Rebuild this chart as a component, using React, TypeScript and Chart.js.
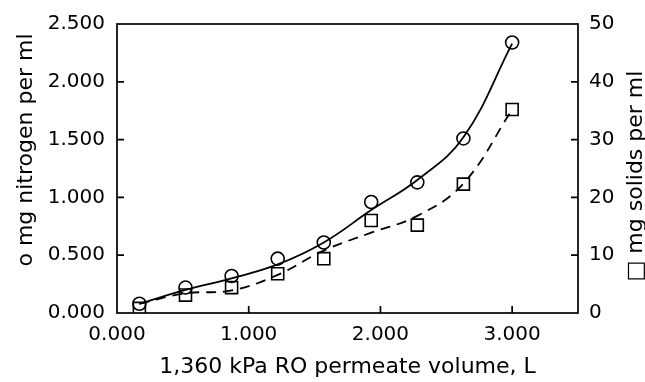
import React, { useEffect, useRef } from 'react';
import { Chart, registerables } from 'chart.js';

Chart.register(...registerables);

// Permeate volume (L) at which samples were taken
const volume = [0.17, 0.52, 0.87, 1.22, 1.57, 1.93, 2.28, 2.63, 3.0];
// mg nitrogen per ml (circles, left axis)
const nitrogen = [0.08, 0.22, 0.32, 0.47, 0.61, 0.96, 1.13, 1.51, 2.34];
// mg solids per ml (squares, right axis)
const solids = [0.8, 3.1, 4.4, 6.8, 9.4, 16.0, 15.2, 22.3, 35.2];
// fitted curves
const nitrogenFit = [0.08, 0.2, 0.3, 0.42, 0.61, 0.89, 1.15, 1.52, 2.33];
const solidsFit = [1.6, 3.4, 3.9, 6.6, 10.8, 13.9, 16.8, 22.4, 35.2];

const xTicks = [0, 1, 2, 3];
const yLeftTicks = [0, 0.5, 1, 1.5, 2, 2.5];
const yRightTicks = [0, 10, 20, 30, 40, 50];

const xTitle = '1,360 kPa RO permeate volume, L';
const yLeftTitle = 'o mg nitrogen per ml';
const yRightTitle = '\u25A1 mg solids per ml';

const FONT = '"DejaVu Sans", sans-serif';

const framePlugin = {
  id: 'frame',
  afterDatasetsDraw(chart: any) {
    const { ctx, chartArea: a, scales } = chart;
    ctx.save();
    ctx.strokeStyle = '#000';
    ctx.lineWidth = 1.7;
    ctx.strokeRect(a.left, a.top, a.right - a.left, a.bottom - a.top);
    const len = 7;
    ctx.beginPath();
    xTicks.forEach((v) => {
      if (v === 0) return;
      const px = scales.x.getPixelForValue(v);
      ctx.moveTo(px, a.bottom);
      ctx.lineTo(px, a.bottom - len);
    });
    yLeftTicks.forEach((v) => {
      if (v === 0 || v === 2.5) return;
      const py = scales.y.getPixelForValue(v);
      ctx.moveTo(a.left, py);
      ctx.lineTo(a.left + len, py);
    });
    yRightTicks.forEach((v) => {
      if (v === 0 || v === 50) return;
      const py = scales.y2.getPixelForValue(v);
      ctx.moveTo(a.right, py);
      ctx.lineTo(a.right - len, py);
    });
    ctx.stroke();

    ctx.fillStyle = '#000';
    ctx.font = `22px ${FONT}`;
    ctx.textAlign = 'center';
    ctx.textBaseline = 'middle';
    ctx.fillText(xTitle, (a.left + a.right) / 2, 367);

    ctx.save();
    ctx.translate(26, 150);
    ctx.rotate(-Math.PI / 2);
    ctx.fillText(yLeftTitle, 0, 0);
    ctx.restore();

    ctx.save();
    ctx.translate(636, 176);
    ctx.rotate(-Math.PI / 2);
    ctx.fillText(yRightTitle, 0, 0);
    ctx.restore();

    ctx.restore();
  },
};

export default function App() {
  const ref = useRef<HTMLCanvasElement | null>(null);

  useEffect(() => {
    if (!ref.current) return;
    const pts = (ys: number[]) => volume.map((x, i) => ({ x, y: ys[i] }));
    const chart = new Chart(ref.current, {
      type: 'scatter',
      data: {
        datasets: [
          {
            label: 'nitrogen fit',
            data: pts(nitrogenFit),
            yAxisID: 'y',
            showLine: true,
            borderColor: '#000',
            borderWidth: 1.8,
            pointRadius: 0,
            tension: 0.4,
          },
          {
            label: 'solids fit',
            data: pts(solidsFit),
            yAxisID: 'y2',
            showLine: true,
            borderColor: '#000',
            borderWidth: 1.8,
            borderDash: [10, 7],
            pointRadius: 0,
            tension: 0.4,
          },
          {
            label: 'mg nitrogen per ml',
            data: pts(nitrogen),
            yAxisID: 'y',
            showLine: false,
            pointStyle: 'circle',
            pointRadius: 6.5,
            pointBorderWidth: 1.6,
            pointBorderColor: '#000',
            pointBackgroundColor: 'rgba(0,0,0,0)',
          },
          {
            label: 'mg solids per ml',
            data: pts(solids),
            yAxisID: 'y2',
            showLine: false,
            pointStyle: 'rect',
            pointRadius: 8.5,
            pointBorderWidth: 1.6,
            pointBorderColor: '#000',
            pointBackgroundColor: 'rgba(0,0,0,0)',
          },
        ],
      },
      options: {
        animation: false,
        responsive: false,
        layout: { padding: { top: 23, left: 0, right: 0, bottom: 0 } },
        plugins: { legend: { display: false }, tooltip: { enabled: false } },
        scales: {
          x: {
            type: 'linear',
            min: 0,
            max: 3.5,
            afterBuildTicks: (s: any) => {
              s.ticks = xTicks.map((v) => ({ value: v }));
            },
            afterFit: (s: any) => {
              s.height = 69;
            },
            grid: { display: false, drawTicks: false },
            border: { display: false },
            ticks: {
              color: '#000',
              font: { family: FONT, size: 20 },
              padding: 10,
              maxRotation: 0,
              callback: (v: any) => Number(v).toFixed(3),
            },
          },
          y: {
            type: 'linear',
            position: 'left',
            min: 0,
            max: 2.5,
            afterBuildTicks: (s: any) => {
              s.ticks = yLeftTicks.map((v) => ({ value: v }));
            },
            afterFit: (s: any) => {
              s.width = 117;
            },
            grid: { display: false, drawTicks: false },
            border: { display: false },
            ticks: {
              color: '#000',
              font: { family: FONT, size: 20 },
              padding: 12,
              callback: (v: any) => Number(v).toFixed(3),
            },
          },
          y2: {
            type: 'linear',
            position: 'right',
            min: 0,
            max: 50,
            afterBuildTicks: (s: any) => {
              s.ticks = yRightTicks.map((v) => ({ value: v }));
            },
            afterFit: (s: any) => {
              s.width = 67;
            },
            grid: { display: false, drawTicks: false },
            border: { display: false },
            ticks: {
              color: '#000',
              font: { family: FONT, size: 20 },
              padding: 11,
              callback: (v: any) => String(v),
            },
          },
        },
      },
      plugins: [framePlugin],
    } as any);
    return () => chart.destroy();
  }, []);

  return (
    <div style={{ position: 'absolute', left: 0, top: 0, width: 645, height: 382, background: '#fff' }}>
      <canvas ref={ref} width={645} height={382} />
    </div>
  );
}
